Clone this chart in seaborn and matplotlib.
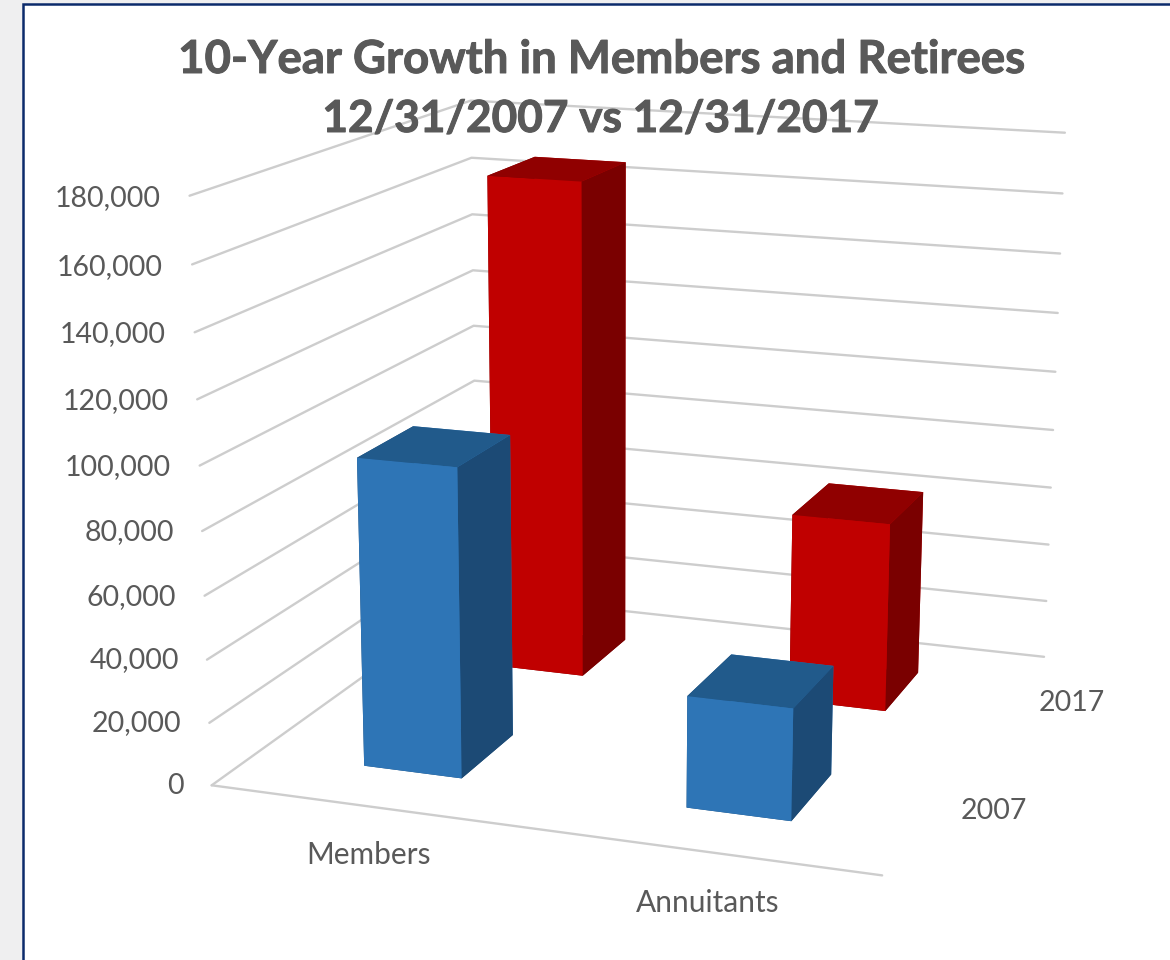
import numpy as np
import matplotlib
matplotlib.use("Agg")
import matplotlib.pyplot as plt
import matplotlib.patheffects as pe
from matplotlib.patches import Rectangle
from mpl_toolkits.mplot3d import Axes3D  # noqa: F401
import seaborn as sns

# ---- data ----
categories = ["Members", "Annuitants"]
series_names = ["2007", "2017"]
values_2007 = [98000, 35000]
values_2017 = [167000, 63000]
axis_ticks = [0, 20000, 40000, 60000, 80000, 100000, 120000, 140000, 160000, 180000]
title_lines = ["10-Year Growth in Members and Retirees", "12/31/2007 vs 12/31/2017"]

# ---- style ----
sns.set_theme(style="white")
plt.rcParams["font.family"] = ["Lato", "DejaVu Sans"]
TEXT = "#595959"
GRID = "#cdcdcd"
FACES = {
    "2007": {"front": "#2E75B6", "top": "#215A8B", "side": "#1C4A75"},
    "2017": {"front": "#C00000", "top": "#900000", "side": "#7A0000"},
}
BAR_W, BAR_D = 0.31, 0.40

# camera calibration: box corners (x, depth, value/1e5) -> pixel position
CAL_WORLD = np.array([
    [0, 0, 0], [2, 0, 0], [2, 2, 0], [0, 2, 0],
    [0, 0, 1.8], [0, 2, 1.8], [2, 2, 1.8],
    [0, 0, 1.0], [2, 2, 1.0], [0, 2, 1.6], [2, 2, 1.6],
], float)
CAL_PIX = np.array([
    [213, 785], [883, 875], [1045, 657], [475, 595],
    [188, 197], [472, 100], [1065, 132],
    [199, 465], [1054, 373], [473, 158], [1062, 193],
], float)

def fit_camera(world, pix):
    rows = []
    for (X, Y, Z), (u, v) in zip(world, pix):
        rows.append([X, Y, Z, 1, 0, 0, 0, 0, -u*X, -u*Y, -u*Z, -u])
        rows.append([0, 0, 0, 0, X, Y, Z, 1, -v*X, -v*Y, -v*Z, -v])
    P = np.linalg.svd(np.array(rows))[2][-1].reshape(3, 4)
    if P[2] @ np.array([1, 1, 0, 1]) < 0:
        P = -P
    return P

fig = plt.figure(figsize=(11.7, 9.6), dpi=100, facecolor="#EFEFF0")
fig.add_artist(Rectangle((23/1170, -0.02), 1.1, 1.02 - 4/960, transform=fig.transFigure,
                         facecolor="white", edgecolor="#0B2A6B", linewidth=1.8, zorder=-5))

ax = fig.add_axes([0, 0, 1, 1], projection="3d")
ax.set_position([0, 0, 1, 1])
ax.apply_aspect = lambda position=None: None
ax.set_axis_off()
ax.patch.set_alpha(0)
ax.computed_zorder = False

P = fit_camera(CAL_WORLD, CAL_PIX)
P[:, 2] /= 1e5
flip = np.array([[1, 0, 0], [0, -1, 960], [0, 0, 1]], float)
Pd = flip @ P
A = ax.transData.inverted().get_matrix()
M = np.vstack([A[0, 0]*Pd[0] + A[0, 2]*Pd[2],
               A[1, 1]*Pd[1] + A[1, 2]*Pd[2],
               [0, 0, 0, -1],
               Pd[2]])
ax.get_proj = lambda: M

def label(x, y, z, s, ha, size):
    """Text at a scene position, placed through the same camera as the bars."""
    u, v, w = P @ np.array([x, y, z, 1.0])
    fig.text(u / w / 1170, 1 - v / w / 960, s, ha=ha, va="center", color=TEXT, fontsize=size)

# gridlines on the two walls and the floor front edge
for lv in axis_ticks:
    ax.plot([0, 0, 2], [0, 2, 2], [lv, lv, lv], color=GRID, lw=1.7, zorder=1)
ax.plot([0, 2], [0, 0], [0, 0], color=GRID, lw=1.7, zorder=1)

# bars, back row first
z = 2
for yi, (name, vals) in reversed(list(enumerate(zip(series_names, [values_2007, values_2017])))):
    for xi, v in enumerate(vals):
        f = FACES[name]
        cols = [f["side"], f["top"], f["front"], f["front"], f["side"], f["side"]]
        ax.bar3d(xi + 0.5 - BAR_W/2, yi + 0.5 - BAR_D/2, 0, BAR_W, BAR_D, v,
                 color=cols, shade=False, edgecolor="none", zorder=z)
        z += 1

# axis labels
for t in axis_ticks:
    label(-0.09, 0, t - 1300, f"{t:,}", "right", 20.5)
for xi, c in enumerate(categories):
    label(xi*0.97 + 0.65, -0.34, 0, c, "center", 21.5)
for yi, s in enumerate(series_names):
    label(2.17 + 0.012*yi, yi + 0.57, 0, s, "center", 20.5)

stroke = [pe.withStroke(linewidth=0.7, foreground=TEXT)]
fig.text(601/1170, 1 - 60/960, title_lines[0], ha="center", va="center", color=TEXT,
         fontsize=32.8, fontweight="bold", path_effects=stroke)
fig.text(600/1170, 1 - 119/960, title_lines[1], ha="center", va="center", color=TEXT,
         fontsize=31.8, fontweight="bold", path_effects=stroke)

fig.savefig("out.png", dpi=100)
